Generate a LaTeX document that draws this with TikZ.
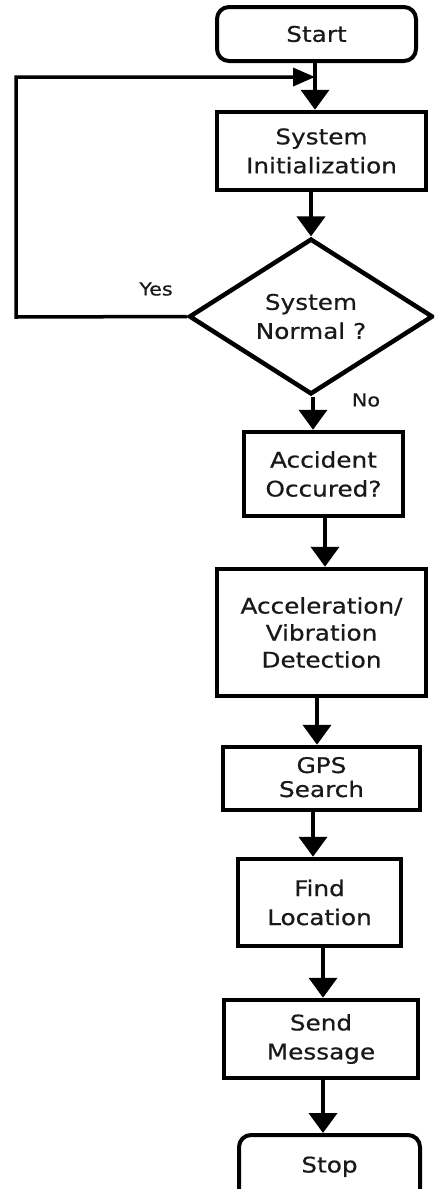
\documentclass[tikz,border=0pt]{standalone}
\usepackage{fontspec}
\setmainfont{DejaVu Sans}[FakeStretch=1.15,FakeBold=0.6]
\usetikzlibrary{shapes.geometric,arrows.meta}
\begin{document}
\begin{tikzpicture}[x=1pt,y=-1pt,
  txt/.style={align=center,inner sep=0pt,text=black!90,font=\fontsize{21.5}{29}\selectfont},
  box/.style={txt,draw,line width=4.5pt},
  term/.style={box,rounded corners=12pt,line width=4pt},
  dec/.style={txt,draw,diamond,line width=4.5pt},
  arr/.style={draw,line width=4pt,-{Triangle[length=20pt,width=28pt]}},
  loop/.style={draw,line width=3.5pt,-{Triangle[length=22pt,width=18pt]}},
  lbl/.style={inner sep=0pt,text=black!90,font=\fontsize{18}{20}\selectfont}
]
\useasboundingbox (0,0) rectangle (434,1189);
\clip (0,0) rectangle (434,1189);
\node[term,minimum width=199pt,minimum height=54pt] (start) at (316.5,34) {Start};
\node[box,minimum width=209pt,minimum height=78pt] (init) at (321.5,151) {System\\Initialization};
\node[dec,minimum width=244pt,minimum height=150pt] (norm) at (311,316.5) {System\\Normal ?};
\node[box,minimum width=159pt,minimum height=84pt] (acc) at (323.5,474) {Accident\\Occured?};
\node[box,minimum width=209pt,minimum height=127pt] (accel) at (321.5,632.5) {Acceleration/\\[-2pt]Vibration\\[-2pt]Detection};
\node[box,minimum width=197pt,minimum height=63pt] (gps) at (321.5,778.5) {\raisebox{3pt}{GPS}\\[-5pt]\raisebox{3pt}{Search}};
\node[box,minimum width=163pt,minimum height=87pt] (find) at (319.5,902.5) {Find\\Location};
\node[box,minimum width=194pt,minimum height=78pt] (send) at (321,1039) {Send\\Message};
\node[term,minimum width=181pt,minimum height=70pt,text depth=0pt] (stop) at (329.5,1170) {\raisebox{11pt}{Stop}};
\node[lbl] (yes) at (156,289) {Yes};
\node[lbl] (no) at (366,400) {No};
\coordinate (lpA) at (16,317);
\coordinate (lpB) at (16,77);
\coordinate (lpC) at (315,77);
% connectors
\draw[arr] ([xshift=-1.5pt]start.south) -- ([xshift=-1.5pt]start.south |- init.north);
\draw[arr] (init.south -| norm.north) -- (norm.north);
\draw[arr] ([xshift=2pt]norm.south) -- ([xshift=2pt]norm.south |- acc.north);
\draw[arr] ([xshift=1.5pt]acc.south) -- ([xshift=1.5pt]acc.south |- accel.north);
\draw[arr] ([xshift=-4.5pt]accel.south) -- ([xshift=-4.5pt]accel.south |- gps.north);
\draw[arr] ([xshift=-8.5pt]gps.south) -- ([xshift=-8.5pt]gps.south |- find.north);
\draw[arr] ([xshift=3.5pt]find.south) -- ([xshift=3.5pt]find.south |- send.north);
\draw[arr] ([xshift=2pt]send.south) -- ([xshift=2pt]send.south |- stop.north);
\draw[loop] (norm.west) -- (lpA) -- (lpB) -- (lpC);
\end{tikzpicture}
\end{document}
